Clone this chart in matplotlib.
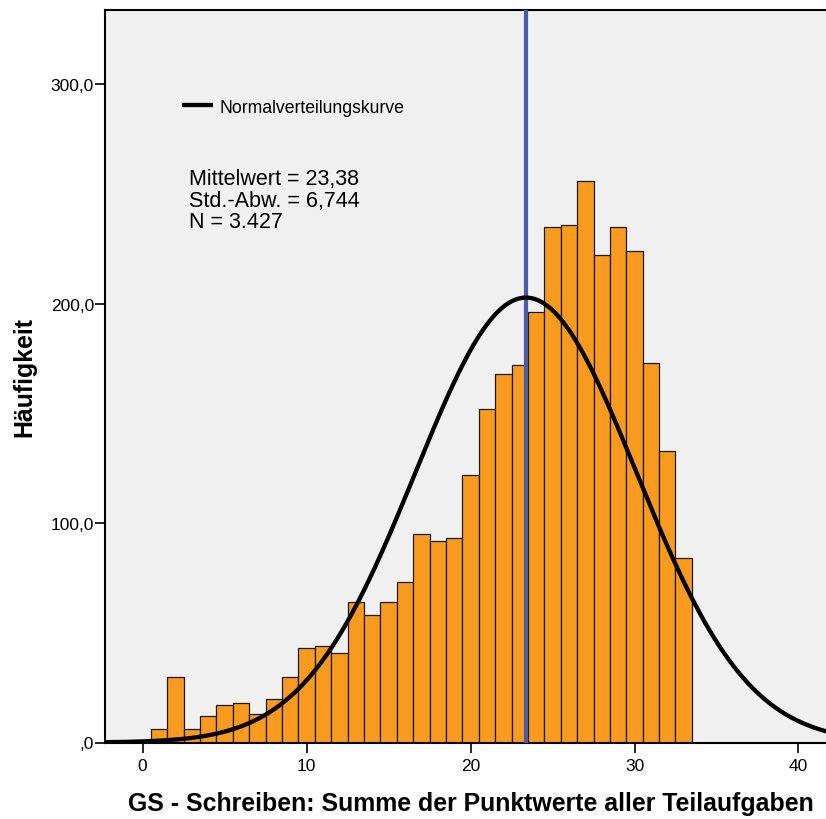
import numpy as np
import matplotlib
matplotlib.use("Agg")
import matplotlib.pyplot as plt
from matplotlib.ticker import FuncFormatter

# Score values (bin centres) and their frequencies
scores = list(range(1, 34))
counts = [6, 30, 6, 12, 17, 18, 13, 20, 30, 43, 44, 41, 64, 58, 64, 73,
          95, 92, 93, 122, 152, 168, 172, 196, 235, 236, 256, 222, 235,
          224, 173, 133, 84]

mean_value = 23.38
std_value = 6.744
n_total = 3427

x_ticks = [0, 10, 20, 30, 40]
y_ticks = [0, 100, 200, 300]

plt.rcParams['font.family'] = ['Liberation Sans', 'DejaVu Sans']

fig = plt.figure(figsize=(8.26, 8.20), dpi=100)
W, H = 826, 820
left_px, right_px, top_px, bottom_px = 105, 828, 10.5, 743.5
ax = fig.add_axes([left_px / W, 1 - bottom_px / H,
                   (right_px - left_px) / W, (bottom_px - top_px) / H])
ax.set_facecolor('#F0F0F0')

ax.bar(scores, counts, width=1.0, color='#F99B1F', edgecolor='#1a1a1a',
       linewidth=0.9, zorder=2)

ax.axvline(mean_value, color='#4A5BA8', linewidth=3.0, zorder=3)

xlim = (-2.29, 41.8)
xs = np.linspace(xlim[0], xlim[1], 600)
curve = n_total * 1.0 / (std_value * np.sqrt(2 * np.pi)) * \
    np.exp(-0.5 * ((xs - mean_value) / std_value) ** 2)
ax.plot(xs, curve, color='black', linewidth=3.1, zorder=4,
        solid_capstyle='butt')

ax.set_xlim(*xlim)
ax.set_ylim(0, 334)
ax.set_xticks(x_ticks)
ax.set_yticks(y_ticks)


def de_num(v, digits):
    return f'{v:.{digits}f}'.replace('.', ',')


def de_fmt(v, pos):
    if v == 0:
        return ',0'
    return de_num(v, 1)


ax.yaxis.set_major_formatter(FuncFormatter(de_fmt))
ax.tick_params(axis='y', direction='out', length=7.5, width=1.2, pad=0.5,
               labelsize=12.5, colors='black')
ax.tick_params(axis='x', direction='out', length=7.5, width=1.2, pad=3.5,
               labelsize=12.5, colors='black')

for side in ('left', 'bottom', 'top'):
    ax.spines[side].set_linewidth(1.5)
    ax.spines[side].set_color('black')
ax.spines['right'].set_visible(False)

ax.set_ylabel('Häufigkeit', fontsize=17.9, fontweight='bold')
ax.yaxis.set_label_coords(-0.095, 0.5)
ax.set_xlabel('GS - Schreiben: Summe der Punktwerte aller Teilaufgaben',
              fontsize=17.9, fontweight='bold')
ax.xaxis.set_label_coords(0.506, -0.0667)

# Legend entry for the normal curve
ax.plot([0.1065, 0.149], [0.8697, 0.8697], transform=ax.transAxes,
        color='black', linewidth=3.1, solid_capstyle='butt', zorder=5)
ax.text(0.158, 0.8598, 'Normalverteilungskurve', transform=ax.transAxes,
        fontsize=12.7, va='baseline', ha='left')

# Summary statistics
stats_lines = ['Mittelwert = ' + de_num(mean_value, 2),
               'Std.-Abw. = ' + de_num(std_value, 3),
               'N = ' + f'{n_total:,}'.replace(',', '.')]
for line, yb in zip(stats_lines, [0.762, 0.7323, 0.7037]):
    ax.text(0.1166, yb, line, transform=ax.transAxes, fontsize=15.5,
            va='baseline', ha='left')

fig.savefig('out.png', dpi=100)
